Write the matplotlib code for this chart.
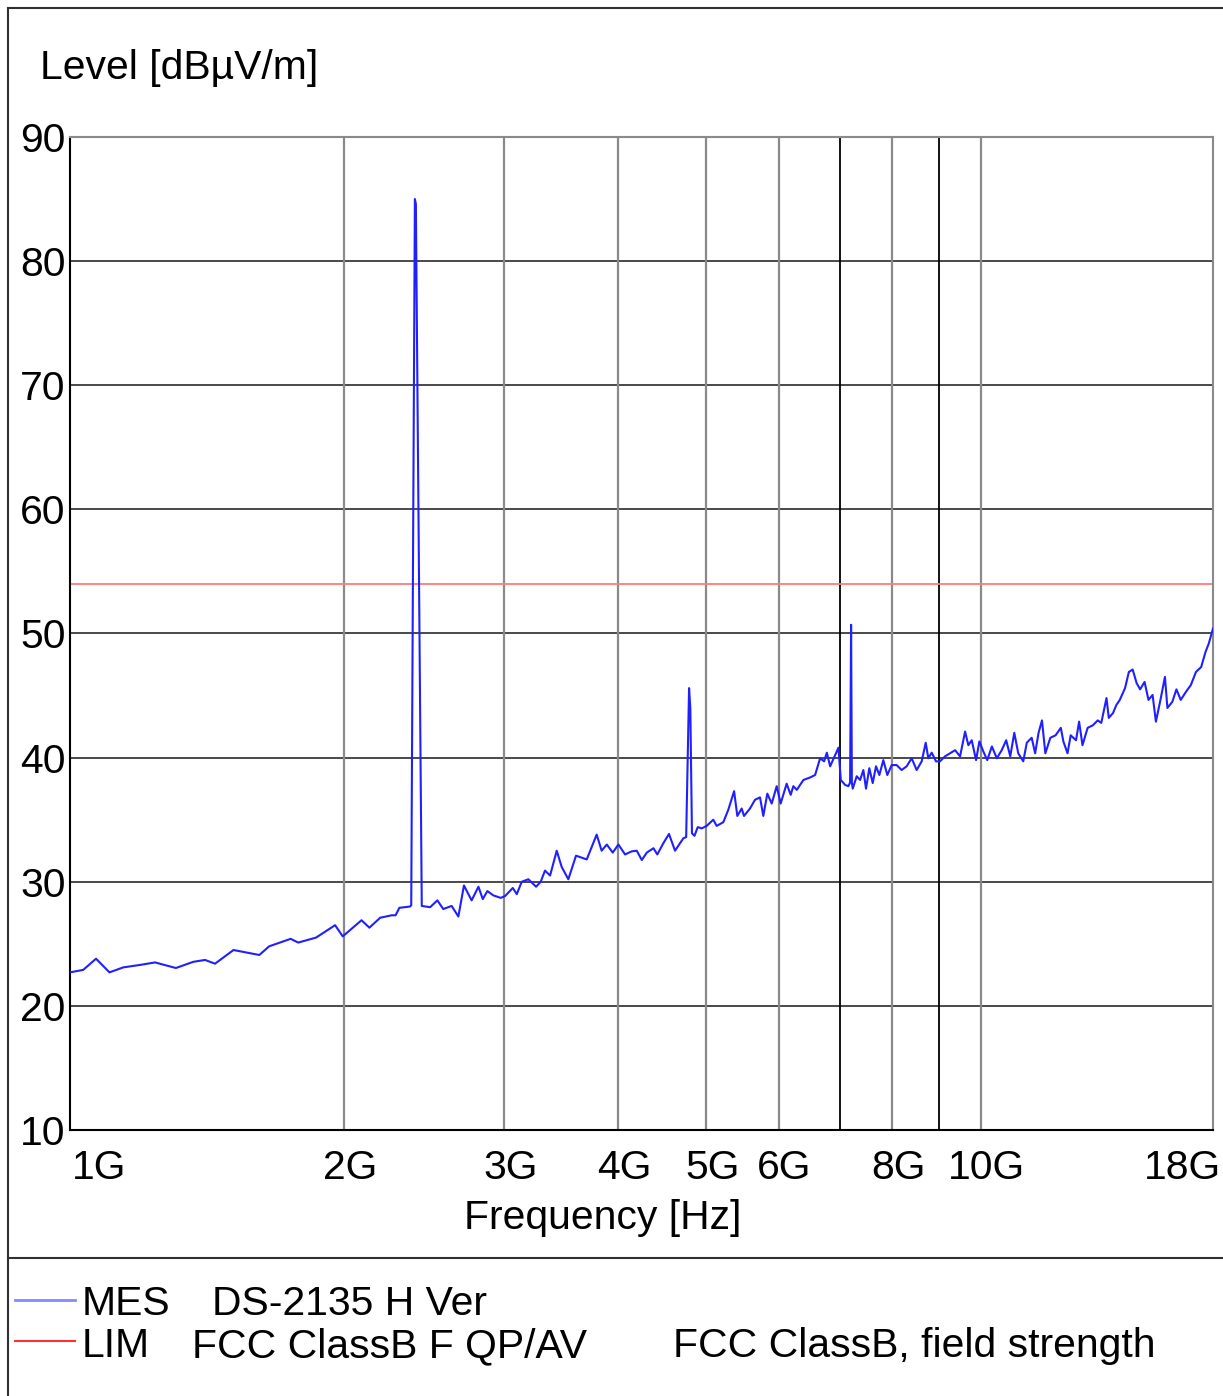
import numpy as np
import matplotlib
matplotlib.use("Agg")
import matplotlib.pyplot as plt
import matplotlib.transforms as mtrans
from matplotlib.lines import Line2D

plt.rcParams["font.family"] = ["Liberation Sans", "DejaVu Sans"]

# -------------------------------
# Datos
# -------------------------------
freq_ghz = [
    1.000, 1.034, 1.068, 1.105, 1.144, 1.194, 1.240, 1.307, 1.366, 1.407,
    1.443, 1.512, 1.614, 1.655, 1.747, 1.781, 1.863, 1.955, 1.993,
    2.090, 2.132, 2.191, 2.256, 2.278, 2.300, 2.362, 2.370, 2.392, 2.398,
    2.434, 2.486, 2.532, 2.570, 2.625, 2.670, 2.708, 2.761, 2.809, 2.840,
    2.873, 2.917, 2.972, 3.005, 3.064, 3.095, 3.134, 3.187, 3.250, 3.288,
    3.324, 3.367, 3.424, 3.467, 3.526, 3.595, 3.694, 3.788, 3.836, 3.886,
    3.945, 4.002, 4.070, 4.139, 4.192, 4.246, 4.300, 4.373, 4.416, 4.483,
    4.548, 4.618, 4.716, 4.750, 4.785, 4.800, 4.820, 4.851, 4.891, 4.940,
    5.003, 5.087, 5.131, 5.218, 5.284, 5.362, 5.406, 5.466, 5.498, 5.582,
    5.653, 5.725, 5.773, 5.832, 5.897, 5.972, 6.032, 6.124, 6.187, 6.229,
    6.283, 6.389, 6.498, 6.581, 6.665, 6.733, 6.779, 6.836, 6.893, 6.981,
    7.023, 7.100, 7.159, 7.190, 7.208, 7.222, 7.238, 7.311, 7.374, 7.435,
    7.485, 7.548, 7.613, 7.677, 7.742, 7.820, 7.899, 7.988, 8.088, 8.191,
    8.295, 8.401, 8.508, 8.617, 8.705, 8.763, 8.838, 8.934, 9.025, 9.140,
    9.257, 9.376, 9.495, 9.616, 9.696, 9.779, 9.887, 9.970, 10.07, 10.17,
    10.29, 10.42, 10.55, 10.67, 10.78, 10.89, 11.00, 11.14, 11.24, 11.38,
    11.48, 11.58, 11.68, 11.78, 11.93, 12.09, 12.25, 12.33, 12.46, 12.56,
    12.73, 12.83, 12.94, 13.11, 13.28, 13.45, 13.57, 13.75, 13.83, 13.98,
    14.10, 14.22, 14.41, 14.55, 14.69, 14.84, 14.97, 15.14, 15.29, 15.45,
    15.58, 15.76, 15.94, 16.04, 16.24, 16.41, 16.59, 16.81, 17.02, 17.24,
    17.47, 17.66, 17.81, 17.92, 18.00,
]
nivel_db = [
    22.7, 22.9, 23.8, 22.7, 23.1, 23.3, 23.5, 23.05, 23.55, 23.7,
    23.4, 24.5, 24.1, 24.8, 25.4, 25.1, 25.5, 26.5, 25.6,
    26.9, 26.3, 27.1, 27.3, 27.3, 27.9, 28.0, 28.1, 85.0, 84.6,
    28.05, 27.95, 28.5, 27.8, 28.05, 27.2, 29.7, 28.5, 29.6, 28.6,
    29.25, 28.9, 28.7, 28.85, 29.5, 29.0, 30.0, 30.2, 29.6, 30.0,
    30.9, 30.5, 32.5, 31.2, 30.2, 32.1, 31.8, 33.8, 32.5, 33.0,
    32.35, 33.0, 32.2, 32.45, 32.5, 31.75, 32.35, 32.7, 32.2, 33.1,
    33.85, 32.5, 33.5, 33.6, 45.6, 44.0, 33.9, 33.7, 34.4, 34.3,
    34.5, 35.0, 34.5, 34.8, 35.8, 37.3, 35.3, 35.9, 35.3, 35.9,
    36.6, 36.8, 35.3, 37.1, 36.3, 37.7, 36.3, 37.9, 37.0, 37.7,
    37.4, 38.2, 38.4, 38.6, 39.95, 39.7, 40.4, 39.3, 39.9, 40.8,
    38.2, 37.8, 37.7, 38.0, 50.7, 38.0, 37.5, 38.5, 38.2, 39.0,
    37.5, 39.15, 37.95, 39.3, 38.6, 39.8, 38.6, 39.4, 39.4, 39.0,
    39.3, 39.95, 39.0, 39.7, 41.2, 39.95, 40.4, 39.7, 39.7, 40.1,
    40.35, 40.6, 40.1, 42.1, 41.0, 41.4, 39.8, 41.3, 40.5, 39.8,
    40.9, 39.95, 40.6, 41.4, 40.1, 42.0, 40.35, 39.7, 41.2, 41.6,
    40.35, 42.0, 43.0, 40.35, 41.6, 41.8, 42.4, 41.3, 40.35, 41.8,
    41.4, 42.9, 41.0, 42.4, 42.6, 43.0, 42.8, 44.8, 43.2, 43.6,
    44.25, 44.65, 45.6, 46.9, 47.1, 46.0, 45.5, 46.1, 44.65, 45.05,
    42.9, 44.65, 46.5, 44.0, 44.5, 45.5, 44.65, 45.3, 45.85, 46.9,
    47.3, 48.5, 49.2, 49.9, 50.4,
]

lim_ghz = [1.0, 18.0]
lim_db = [54.0, 54.0]

grid_x_ghz = [2, 3, 4, 5, 6, 8, 10]
grid_x_dark_ghz = [7, 9]
grid_y_db = [20, 30, 40, 50, 60, 70, 80]

xtick_ghz = [1, 2, 3, 4, 5, 6, 8, 10, 18]
xtick_txt = ["1G", "2G", "3G", "4G", "5G", "6G", "8G", "10G", "18G"]
ytick_db = [10, 20, 30, 40, 50, 60, 70, 80, 90]

# -------------------------------
# Figura
# -------------------------------
W, H = 1223, 1396
FS = 29.4
fig = plt.figure(figsize=(W / 100, H / 100), dpi=100)
fig.patch.set_facecolor("white")

def fx(px):
    return px / W

def fy(py):
    return 1 - py / H

ax = fig.add_axes([fx(70), fy(1130), (1213 - 70) / W, (1130 - 137) / H])
ax.set_xscale("log")
ax.set_xlim(1e9, 18e9)
ax.set_ylim(10, 90)

for g in grid_y_db:
    ax.axhline(g, color="#3a3a3a", lw=1.3, zorder=1)
for g in grid_x_ghz:
    ax.axvline(g * 1e9, color="#8a8a8a", lw=1.6, zorder=1)
for g in grid_x_dark_ghz:
    ax.axvline(g * 1e9, color="#000000", lw=1.3, zorder=1)

ax.plot(np.array(lim_ghz) * 1e9, lim_db, color="#ff7b7b", lw=1.3, zorder=2)
ax.plot(np.array(freq_ghz) * 1e9, nivel_db, color="#2020ff", lw=1.5, zorder=3)

ax.spines["left"].set_color("black")
ax.spines["bottom"].set_color("black")
ax.spines["top"].set_color("#8a8a8a")
ax.spines["right"].set_color("#8a8a8a")
for s in ax.spines.values():
    s.set_linewidth(1.5)

ax.minorticks_off()
ax.set_yticks(ytick_db)
ax.set_yticklabels([str(v) for v in ytick_db], fontsize=FS)
ax.tick_params(axis="y", length=0, pad=3)

ax.set_xticks([v * 1e9 for v in xtick_ghz])
ax.set_xticklabels(xtick_txt, fontsize=FS)
ax.tick_params(axis="x", length=0, pad=14)

# desplazamientos de etiquetas en x (px)
desp = {"1G": 2, "18G": 8}
for lab in ax.get_xticklabels():
    t = lab.get_text()
    if t == "1G":
        lab.set_horizontalalignment("left")
    if t == "18G":
        lab.set_horizontalalignment("right")
    dx = desp.get(t, 6)
    lab.set_transform(lab.get_transform() + mtrans.ScaledTranslation(dx / 100, 0, fig.dpi_scale_trans))

fig.text(fx(40), fy(68), "Level [dBµV/m]", fontsize=FS, ha="left", va="center")
fig.text(fx(603), fy(1218), "Frequency [Hz]", fontsize=FS, ha="center", va="center")

# marco exterior
borde = dict(color="#303030", lw=1.5, transform=fig.transFigure)
fig.add_artist(Line2D([fx(8), 1], [fy(8), fy(8)], **borde))
fig.add_artist(Line2D([fx(8), fx(8)], [fy(8), 0], **borde))
fig.add_artist(Line2D([fx(8), 1], [fy(1258), fy(1258)], **borde))

# leyenda
fig.add_artist(Line2D([fx(15), fx(75)], [fy(1300), fy(1300)], color="#8888ff", lw=2, transform=fig.transFigure))
fig.add_artist(Line2D([fx(15), fx(75)], [fy(1341), fy(1341)], color="#ff3030", lw=1.5, transform=fig.transFigure))
fig.text(fx(82), fy(1304), "MES", fontsize=FS, ha="left", va="center")
fig.text(fx(212), fy(1304), "DS-2135 H Ver", fontsize=FS, ha="left", va="center")
fig.text(fx(82), fy(1346), "LIM", fontsize=FS, ha="left", va="center")
fig.text(fx(192), fy(1346), "FCC ClassB F QP/AV", fontsize=FS, ha="left", va="center")
fig.text(fx(673), fy(1346), "FCC ClassB, field strength", fontsize=FS, ha="left", va="center")

fig.savefig("out.png", dpi=100)
